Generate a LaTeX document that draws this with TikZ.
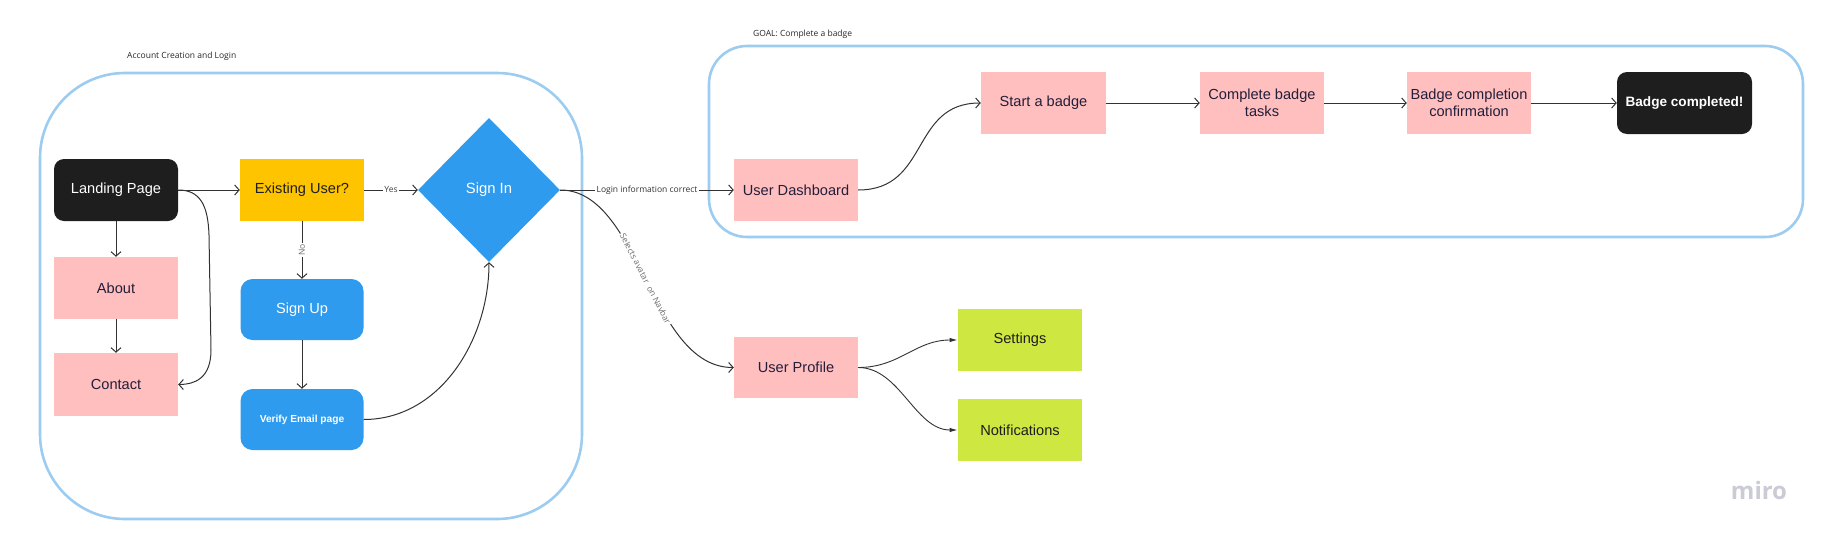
\documentclass[tikz,border=0pt]{standalone}
\usepackage{fontspec}
\setmainfont{Liberation Sans}
\newfontfamily\lab{Open Sans}
\usetikzlibrary{arrows.meta,shapes.geometric}
\definecolor{frame}{RGB}{157,204,241}
\definecolor{pinkc}{RGB}{255,191,191}
\definecolor{blackc}{RGB}{30,30,30}
\definecolor{yellowc}{RGB}{255,196,0}
\definecolor{bluec}{RGB}{46,155,238}
\definecolor{limec}{RGB}{207,231,65}
\definecolor{navytext}{RGB}{35,30,58}
\definecolor{cline}{RGB}{50,50,50}
\definecolor{labgray}{RGB}{110,110,110}
\definecolor{mirogray}{RGB}{203,203,214}
\begin{document}
\begin{tikzpicture}[x=1pt,y=-1pt,
  nbox/.style={minimum width=124pt, minimum height=62pt, inner sep=0pt, align=center,
    font=\fontsize{14.6}{16.5}\selectfont},
  pinkbox/.style={nbox, fill=pinkc, text=navytext},
  blackbox/.style={nbox, fill=blackc, text=white, rounded corners=10pt},
  bluebox/.style={nbox, fill=bluec, text=white, rounded corners=12pt},
  limebox/.style={nbox, fill=limec, text=blackc},
  container/.style={draw=frame, line width=2.6pt},
  conn/.style={draw=cline, line width=1pt, -{Straight Barb[length=4.5pt,width=10pt,line width=1pt]}},
  fconn/.style={draw=cline, line width=0.9pt, -{Latex[length=8pt,width=4.5pt]}},
  elabel/.style={fill=white, inner sep=1.5pt, font=\lab\fontsize{8.5}{10}\selectfont},
  title/.style={anchor=west, inner sep=0pt, text=black!85, font=\lab\fontsize{8.5}{10}\selectfont}
]
\useasboundingbox (0,0) rectangle (1831,546);
% containers
\draw[container, rounded corners=85pt] (40,73) rectangle (582,519);
\draw[container, rounded corners=38pt] (709,46) rectangle (1803,237);
\node[title] (t1) at (127,56) {Account Creation and Login};
\node[title] (t2) at (753,34) {GOAL: Complete a badge};
% nodes
\node[blackbox] (land) at (116,190) {Landing Page};
\node[pinkbox] (about) at (116,288) {About};
\node[pinkbox, minimum height=63pt] (contact) at (116,384.5) {Contact};
\node[nbox, fill=yellowc, text=blackc] (exist) at (302,190) {Existing User?};
\node[bluebox, minimum width=123pt, minimum height=61pt] (signup) at (302,309.5) {Sign Up};
\node[bluebox, minimum width=123pt, minimum height=61pt, font=\bfseries\fontsize{10.2}{12}\selectfont] (verify) at (302,419.5) {Verify Email page};
\node[diamond, fill=bluec, text=white, minimum width=142pt, minimum height=144pt, inner sep=0pt,
  font=\fontsize{14.8}{16}\selectfont] (signin) at (489,190) {Sign In};
\node[pinkbox] (dash) at (796,190) {User Dashboard};
\node[pinkbox, minimum width=125pt] (start) at (1043.5,103) {Start a badge};
\node[pinkbox] (tasks) at (1262,103) {Complete badge\\tasks};
\node[pinkbox] (confirm) at (1469,103) {Badge completion\\confirmation};
\node[blackbox, minimum width=135pt, font=\bfseries\fontsize{13.6}{16}\selectfont] (done) at (1684.5,103) {Badge completed!};
\node[pinkbox, minimum height=61pt] (profile) at (796,367.5) {User Profile};
\node[limebox, minimum width=124.5pt] (settings) at (1020,340) {Settings};
\node[limebox, minimum width=124.5pt] (notif) at (1020,430) {Notifications};
\node[anchor=center, inner sep=0pt, text=mirogray, font=\lab\bfseries\fontsize{24}{26}\selectfont] (miro) at (1759,490) {miro};
% connectors
\draw[conn] (land.east) -- (exist.west);
\draw[conn] (land.south) -- (about.north);
\draw[conn] (about.south) -- (contact.north);
\draw[conn] (land.east) .. controls (200,190) and (208,205) .. (209,235) -- (211,350) .. controls (211,378) and (195,384.5) .. (contact.east);
\draw[conn] (exist.south) -- node[elabel, text=labgray, rotate=90] {No} (signup.north);
\draw[conn] (exist.east) -- node[elabel, text=black!75] {Yes} (signin.west);
\draw[conn] (signup.south) -- (verify.north);
\draw[conn] (verify.east) .. controls (440,419.5) and (489,340) .. (signin.south);
\draw[conn] (signin.east) -- node[elabel, text=black!80] {Login information correct} (dash.west);
\draw[conn] (signin.east) .. controls (640,190) and (650,367.5) .. node[elabel, text=labgray, sloped, midway] {Selects avatar\ \ on Navbar} (profile.west);
\draw[conn] (dash.east) .. controls (930,190) and (910,103) .. (start.west);
\draw[conn] (start.east) -- (tasks.west);
\draw[conn] (tasks.east) -- (confirm.west);
\draw[conn] (confirm.east) -- (done.west);
\draw[fconn] (profile.east) .. controls (900,367.5) and (915,340) .. (settings.west);
\draw[fconn] (profile.east) .. controls (900,367.5) and (915,430) .. (notif.west);
\end{tikzpicture}
\end{document}
